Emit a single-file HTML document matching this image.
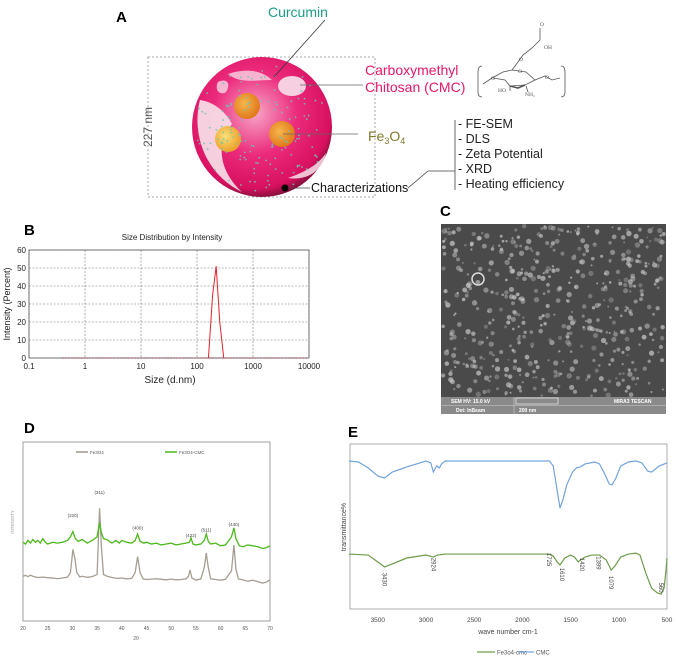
<!DOCTYPE html>
<html><head><meta charset="utf-8"><style>
html,body{margin:0;padding:0;background:#fff;}
svg{display:block;font-family:"Liberation Sans",sans-serif;}
</style></head><body>
<svg id="fig" width="676" height="659" viewBox="0 0 676 659" xmlns="http://www.w3.org/2000/svg">
<defs>
<radialGradient id="sph" cx="0.45" cy="0.4" r="0.6">
<stop offset="0" stop-color="#f6a6c6"/><stop offset="0.5" stop-color="#ec2a7c"/><stop offset="0.9" stop-color="#d8105f"/><stop offset="1" stop-color="#8e1040"/>
</radialGradient>
<radialGradient id="orb" cx="0.4" cy="0.4" r="0.6"><stop offset="0" stop-color="#f7b54a"/><stop offset="1" stop-color="#e07a1c"/></radialGradient>
<radialGradient id="orb2" cx="0.4" cy="0.4" r="0.6"><stop offset="0" stop-color="#fae07a"/><stop offset="1" stop-color="#eea02a"/></radialGradient>
</defs>

<!-- Panel A -->
<g>
<text x="116" y="22" font-size="15" font-weight="bold">A</text>
<rect x="148" y="57" width="227" height="140" fill="none" stroke="#aaa" stroke-dasharray="2,2"/>
<text transform="translate(152,127) rotate(-90)" font-size="12" fill="#555" text-anchor="middle">227 nm</text>
<g>
<circle cx="262" cy="127" r="70" fill="url(#sph)"/>
<path d="M200,100 C192,130 202,172 242,192 C218,170 216,142 232,124 C226,112 214,102 200,100Z" fill="#f7e3ea" opacity="0.9"/>
<path d="M228,74 C245,68 262,70 272,80 C256,80 240,84 228,74Z" fill="#f9d3e2" opacity="0.8"/>
<path d="M218,82 C225,78 232,82 226,92 C220,96 214,90 218,82Z" fill="#f7dbe6" opacity="0.8"/>
<ellipse cx="292" cy="86" rx="14" ry="10" fill="#f6cfe0"/>
<path d="M288,178 C305,172 318,165 326,153 C323,170 308,181 288,178Z" fill="#f9e0ea" opacity="0.85"/>
<circle cx="247" cy="106" r="13" fill="url(#orb)"/>
<circle cx="228" cy="139" r="13" fill="url(#orb2)"/>
<circle cx="282" cy="134" r="13" fill="url(#orb)"/>
</g>
<g id="dots" fill="#6cc7b0"></g>
<text x="268" y="17" font-size="14" fill="#1a9c86">Curcumin</text>
<line x1="325" y1="20" x2="274" y2="77" stroke="#333" stroke-width="0.8"/>
<text x="365" y="75" font-size="14" fill="#e5186a">Carboxymethyl</text>
<text x="365" y="92" font-size="14" fill="#e5186a">Chitosan (CMC)</text>
<line x1="300" y1="85" x2="363" y2="85" stroke="#666" stroke-width="0.8"/>
<text x="368" y="141" font-size="14" fill="#7d7a2a">Fe<tspan font-size="9" dy="3">3</tspan><tspan dy="-3">O</tspan><tspan font-size="9" dy="3">4</tspan></text>
<line x1="283" y1="134" x2="358" y2="134" stroke="#666" stroke-width="0.8"/>
<circle cx="285" cy="188" r="3.5" fill="#000"/>
<text x="311" y="192" font-size="12.5" fill="#111">Characterizations</text>
<line x1="288" y1="188" x2="310" y2="188" stroke="#444" stroke-width="0.8"/>
<polyline points="408,188 428,171 455,171" fill="none" stroke="#444" stroke-width="0.8"/>
<line x1="455" y1="120" x2="455" y2="190" stroke="#444" stroke-width="0.8"/>
<g font-size="12.5" fill="#222">
<text x="458" y="128">- FE-SEM</text><text x="458" y="143">- DLS</text><text x="458" y="158">- Zeta Potential</text><text x="458" y="173">- XRD</text><text x="458" y="188">- Heating efficiency</text>
</g>
<g stroke="#555" fill="none" stroke-width="0.8">
<path d="M482,66 Q478,66 478,72 L478,92 Q478,97 482,97"/>
<path d="M561,66 Q565,66 565,72 L565,92 Q565,97 561,97"/>
<path d="M483,84 L492,78 L503,72 L512,70 L526,72 L535,80 L525,85 L510,86 L505,80 L493,78"/>
<path d="M525,85 L518,88 L510,86" stroke-width="1.6"/>
<path d="M512,70 L518,62 L523,55 L532,48 L540,40 L540,28"/>
<path d="M535,80 L545,76 L552,80 L560,78"/>
<path d="M510,86 L510,91"/><path d="M526,86 L528,92"/>
<g stroke="none" fill="#555" font-family="Liberation Serif,serif" font-size="5.5">
<text x="491" y="80">O</text><text x="518" y="73">O</text><text x="519" y="61">O</text><text x="540" y="26">O</text><text x="544" y="49">OH</text><text x="545" y="79">O</text><text x="498" y="92">HO</text><text x="525" y="96">NH₂</text>
</g>
</g>
</g>

<!-- Panel B -->
<g>
<text x="24" y="235" font-size="15" font-weight="bold">B</text>
<text x="172" y="240" font-size="8" fill="#222" text-anchor="middle">Size Distribution by Intensity</text>
<g id="dlsGrid"></g>
<rect x="29" y="250" width="280" height="108" fill="none" stroke="#555" stroke-width="0.8"/>
<text transform="translate(10,304) rotate(-90)" font-size="9" fill="#222" text-anchor="middle">Intensity (Percent)</text>
<text x="170" y="383" font-size="10" fill="#222" text-anchor="middle">Size (d.nm)</text>
<g id="dlsPlot"></g>
</g>

<!-- Panel C -->
<g>
<text x="440" y="216" font-size="15" font-weight="bold">C</text>
<rect x="441" y="224" width="225" height="190" fill="#4a4a4a"/>
<g id="semDots"></g>
<rect x="441" y="397" width="225" height="17" fill="#8a8a8a"/>
<line x1="441" y1="405.5" x2="666" y2="405.5" stroke="#ccc" stroke-width="0.6"/>
<line x1="514" y1="397" x2="514" y2="414" stroke="#ccc" stroke-width="0.6"/>
<g font-size="5" font-weight="bold" fill="#fff">
<text x="451" y="403">SEM HV: 15.0 kV</text><text x="456" y="412">Det: InBeam</text>
<text x="519" y="412">200 nm</text><text x="614" y="403">MIRA3 TESCAN</text>
</g>
<rect x="516" y="398" width="42" height="6" fill="none" stroke="#fff" stroke-width="0.6"/>
</g>

<!-- Panel D -->
<g>
<text x="24" y="433" font-size="15" font-weight="bold">D</text>
<rect x="23" y="442" width="247" height="179" fill="none" stroke="#888" stroke-width="0.8"/>
<text transform="translate(14,522) rotate(-90)" font-size="4.5" fill="#999" text-anchor="middle">INTENSITY</text>
<text x="136" y="640" font-size="5" fill="#666" text-anchor="middle">2θ</text>
<g>
<line x1="76" y1="452" x2="88" y2="452" stroke="#9e968c" stroke-width="1.5"/><text x="90" y="454" font-size="4.5" fill="#555">Fe3O4</text>
<line x1="165" y1="452" x2="177" y2="452" stroke="#4cb81a" stroke-width="1.5"/><text x="179" y="454" font-size="4.5" fill="#555">Fe3O4-CMC</text>
</g>
<g id="xrdPlot"></g>
</g>

<!-- Panel E -->
<g>
<text x="348" y="437" font-size="15" font-weight="bold">E</text>
<rect x="350" y="444" width="317" height="165" fill="none" stroke="#999" stroke-width="0.8"/>
<text transform="translate(346,527) rotate(-90)" font-size="7" fill="#444" text-anchor="middle">transmittance%</text>
<text x="508" y="634" font-size="7" fill="#444" text-anchor="middle">wave number cm-1</text>
<g>
<line x1="477" y1="652" x2="495" y2="652" stroke="#6f9a4a" stroke-width="1.2"/><text x="497" y="654.5" font-size="6" fill="#555">Fe3o4-cmc</text>
<line x1="518" y1="652" x2="534" y2="652" stroke="#73a3dc" stroke-width="1.2"/><text x="536" y="654.5" font-size="6" fill="#555">CMC</text>
</g>
<g id="ftirPlot"></g>
</g>
</svg>
<script>
// ---- DLS data ----
const dlsTicks = [0.1, 1, 10, 100, 1000, 10000];
const dlsYTicks = [0, 10, 20, 30, 40, 50, 60];
const dlsSizes = [160, 190, 220, 255, 300];
const dlsValues = [0, 35, 51, 20, 0];
// ---- XRD data ----
const xrdTicks = [20, 25, 30, 35, 40, 45, 50, 55, 60, 65, 70];
const xrdTheta = [20,20.5,21,21.5,22,22.5,23,24,25,26,27,28,29,29.6,30.1,30.5,30.9,31.5,32,33,34,35,35.5,35.9,36.3,37,38,39,40,41,42,42.7,43.2,43.7,44.3,45,46,47,48,49,50,51,52,53,53.5,53.8,54.2,55,56,56.7,57.1,57.5,58,59,60,61,62.2,62.7,63.1,63.6,64.5,65.5,66.5,67.5,68.5,69.3,70];
const xrdFe3O4 = [25,25.5,24.8,25.6,25,24.6,24.3,24.5,24.2,24,23.6,24,24.5,27,40,35,27,24.6,25,24.4,24.8,26,63,40,26,25,24.3,23.8,24,23.5,23.8,27,36,27,23.5,23.2,23.4,23.6,23.3,23,23.4,23,23.2,23.5,25,28.5,24,22.8,23.5,30,38,30,23.5,23.2,22.8,23.3,28,42.5,29,23.5,23,22.2,22.8,22,21.2,21.8,23];
const xrdThetaG = [20,20.5,21,21.5,22,22.5,23,23.5,24,24.5,25,26,27,28,29,29.6,30.1,30.6,31.2,32,33,34,35,35.5,35.8,36.3,37,38,38.8,39.5,40,41,42,42.7,43.2,43.7,44.5,45,46,47,48,49,50,51,52,53,53.7,54,54.4,55,56,56.7,57.1,57.5,58,59,60,61,62.2,62.7,63.1,63.8,64.5,65.5,66.5,67.5,68.5,69.3,70];
const xrdFe3O4CMC = [44,43,45,43.5,45.5,44,45,43.5,46,44,43,44,43.5,44,45,47,50,46,44.5,45.5,43.5,45,47,55,50,46,45.5,43.5,45,43.5,45,44,43.5,45,48.6,44.5,43.5,44,43,43.5,42.5,43,43.5,42.5,43,43.5,44,46.4,43,42.5,43,45,48.6,44.5,43,43.5,42,42.5,47,52,46,42,41.5,42.5,42,41.5,40.5,41,42];
const xrdPeakLabels = ["(220)","(311)","(400)","(422)","(511)","(440)"];
const xrdPeakTheta = [30.1, 35.5, 43.2, 54.0, 57.1, 62.7];
const xrdPeakLabelY = [58, 71, 51, 47, 50, 53];
// ---- FTIR data ----
const ftirTicks = [3500, 3000, 2500, 2000, 1500, 1000, 500];
const ftirWnCMC = [3800,3700,3600,3500,3430,3350,3200,3000,2950,2924,2890,2860,2840,2800,1720,1680,1640,1610,1580,1540,1480,1440,1400,1350,1300,1250,1200,1150,1100,1070,1030,980,900,820,760,700,660,580,500];
const ftirCMC = [89.7,89.1,85.5,80.6,79.4,83.0,86.1,89.7,88.5,83.0,86.7,85.5,87.9,89.7,89.7,86.7,72.1,61.2,66.1,75.2,83.0,85.5,86.1,87.9,88.5,89.1,87.9,82.4,75.8,75.2,79.4,86.7,89.1,89.7,88.5,83.6,83.0,86.7,88.5];
const ftirWnFe = [3800,3600,3500,3430,3350,3200,3000,2924,2880,2800,1725,1680,1640,1610,1560,1500,1460,1420,1399,1350,1280,1200,1130,1079,1040,980,900,820,780,720,660,600,560,530,510,500];
const ftirFeCMC = [33.3,32.7,28.5,25.5,27.3,30.9,32.7,31.5,32.7,33.3,33.3,32.1,28.5,26.7,30.9,32.7,31.5,28.5,29.7,31.5,32.7,32.7,29.7,23.6,26.1,31.5,33.3,33.9,32.7,21.8,12.7,9.7,9.1,12.7,23.6,30.9];
const ftirPeakLabels = ["3430","2924","1725","1610","1420","1399","1079","560"];
const ftirPeakLabelWn = [3430, 2924, 1725, 1590, 1380, 1210, 1079, 560];
const ftirPeakLabelV = [22, 31, 34, 25, 31, 32, 20, 16];

const NS = "http://www.w3.org/2000/svg";
function mk(tag, attrs, parent) {
  const e = document.createElementNS(NS, tag);
  for (const k in attrs) e.setAttribute(k, attrs[k]);
  parent.appendChild(e);
  return e;
}

// curcumin dots (decorative)
(function(){
  const g = document.getElementById('dots');
  let s = 7;
  function r(){ s = (s*9301+49297)%233280; return s/233280; }
  for (let i=0;i<140;i++){
    const a = r()*Math.PI*2, d = 20 + r()*46;
    mk('circle',{cx:262+Math.cos(a)*d, cy:127+Math.sin(a)*d, r:0.9, opacity:0.9}, g);
  }
})();

// SEM texture (decorative)
(function(){
  const g = document.getElementById('semDots');
  let s = 11;
  function r(){ s = (s*9301+49297)%233280; return s/233280; }
  for (let i=0;i<520;i++){
    const c = mk('circle',{cx:443+r()*221, cy:226+r()*170, r:0.9+r()*1.8, fill:'#c8c8c8', opacity:0.3+r()*0.45}, g);
    
    
  }
  const big = mk('circle',{cx:478,cy:279,r:6,fill:'none',stroke:'#ddd','stroke-width':1.5}, g);
  
  
})();

// DLS chart
(function(){
  const grid = document.getElementById('dlsGrid'), g = document.getElementById('dlsPlot');
  const x = v => 29 + (Math.log10(v) + 1) * 56;
  const y = v => 358 - v * 1.8;
  dlsTicks.forEach(t => {
    const l = mk('line',{x1:x(t),x2:x(t),y1:250,y2:358,stroke:'#777','stroke-width':0.6,'stroke-dasharray':'2,1.5'}, grid);
    
    
    const tx = mk('text',{x:x(t),y:369,'font-size':8,'text-anchor':'middle',fill:'#222'}, g);
    tx.textContent = t;
    
    
  });
  dlsYTicks.forEach(t => {
    const l = mk('line',{x1:29,x2:309,y1:y(t),y2:y(t),stroke:'#777','stroke-width':0.6,'stroke-dasharray':'2,1.5'}, grid);
    
    
    const tx = mk('text',{x:26,y:y(t)+3,'font-size':8,'text-anchor':'end',fill:'#222'}, g);
    tx.textContent = t;
    
    
  });
  const base = mk('line',{x1:x(0.4),x2:309,y1:y(0),y2:y(0),stroke:'#b3001b','stroke-width':1,'stroke-dasharray':'0.8,2.2'}, g);
  
  
  const pts = dlsSizes.map((s,i) => x(s)+','+y(dlsValues[i])).join(' ');
  const pl = mk('polyline',{points:pts,fill:'none',stroke:'#e8202a','stroke-width':1}, g);
  
  
})();

// XRD chart
(function(){
  const g = document.getElementById('xrdPlot');
  const x = v => 23 + (v - 20) * 4.94;
  const y = v => 621 - v * 1.79;
  xrdTicks.forEach(t => {
    const tx = mk('text',{x:x(t),y:630,'font-size':5,'text-anchor':'middle',fill:'#555'}, g);
    tx.textContent = t;
    
    
  });
  const p1 = mk('polyline',{points:xrdTheta.map((t,i)=>x(t)+','+y(xrdFe3O4[i])).join(' '),fill:'none',stroke:'#a69e92','stroke-width':1.3}, g);
  
  
  const p2 = mk('polyline',{points:xrdThetaG.map((t,i)=>x(t)+','+y(xrdFe3O4CMC[i])).join(' '),fill:'none',stroke:'#4cb81a','stroke-width':1.3}, g);
  
  
  xrdPeakLabels.forEach((lab,i) => {
    const tx = mk('text',{x:x(xrdPeakTheta[i]),y:y(xrdPeakLabelY[i]),'font-size':4.5,'text-anchor':'middle',fill:'#444'}, g);
    tx.textContent = lab;
    
    
  });
})();

// FTIR chart
(function(){
  const g = document.getElementById('ftirPlot');
  const x = v => 667 - (v - 500) * 0.0964;
  const y = v => 609 - v * 1.65;
  ftirTicks.forEach(t => {
    const tx = mk('text',{x:x(t),y:622,'font-size':6.5,'text-anchor':'middle',fill:'#444'}, g);
    tx.textContent = t;
    
    
  });
  const p1 = mk('polyline',{points:ftirWnCMC.map((w,i)=>x(w)+','+y(ftirCMC[i])).join(' '),fill:'none',stroke:'#73a3dc','stroke-width':1.2}, g);
  
  
  const p2 = mk('polyline',{points:ftirWnFe.map((w,i)=>x(w)+','+y(ftirFeCMC[i])).join(' '),fill:'none',stroke:'#6f9a4a','stroke-width':1.2}, g);
  
  
  ftirPeakLabels.forEach((lab,i) => {
    const px = x(ftirPeakLabelWn[i]) - 2, py = y(ftirPeakLabelV[i]);
    const tx = mk('text',{transform:'translate('+px+','+py+') rotate(90)','font-size':6,'text-anchor':'start',fill:'#444'}, g);
    tx.textContent = lab;
    
    
  });
})();
</script>
</body></html>
